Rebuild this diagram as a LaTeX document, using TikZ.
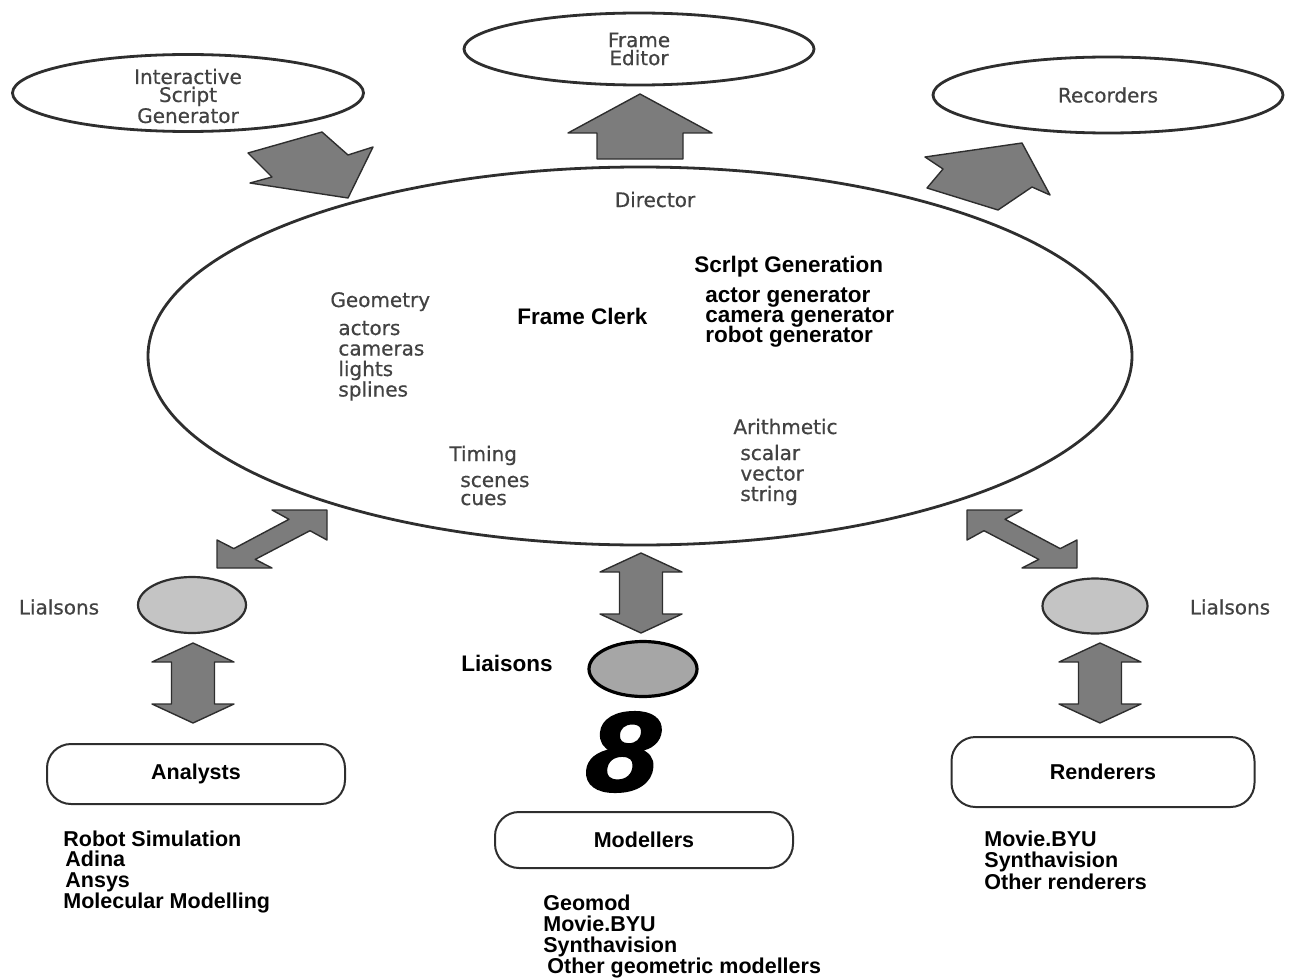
\documentclass[tikz,border=0pt]{standalone}
\usepackage{fontspec}
\newfontfamily\genevafont[FakeBold=0.6]{DejaVu Sans}
\newfontfamily\helvfont{Liberation Sans}
\newfontfamily\heavyfont[FakeBold=2.5, FakeStretch=1.15, FakeSlant=0.08]{Liberation Sans}
\usetikzlibrary{shapes.geometric}

\definecolor{inkgray}{HTML}{424242}
\definecolor{linegray}{HTML}{2E2E2E}
\definecolor{arrowgray}{HTML}{7C7C7C}
\definecolor{lialgray}{HTML}{C4C4C4}
\definecolor{lialdark}{HTML}{A6A6A6}

\begin{document}
\begin{tikzpicture}[x=0.5pt, y=-0.5pt, line join=round,
    oval/.style={ellipse, draw=linegray, line width=1.4pt, inner sep=0},
    pill/.style={rectangle, rounded corners=12pt, draw=linegray, line width=1pt, inner sep=0,
        font=\helvfont\bfseries\fontsize{10.75pt}{12pt}\selectfont},
    graytxt/.style={font=\genevafont\fontsize{10pt}{9pt}\selectfont, text=inkgray, inner sep=0},
    boldtxt/.style={font=\helvfont\bfseries\fontsize{11.25pt}{12pt}\selectfont, inner sep=0},
    listtxt/.style={font=\helvfont\bfseries\fontsize{10.75pt}{12pt}\selectfont, inner sep=0, anchor=base west},
    fatarrow/.style={draw=linegray, line width=0.7pt, fill=arrowgray}]

    \useasboundingbox (0,0) rectangle (1290,979);

    % ------------------------------------------
    % Top: script generator, editor, recorders
    % ------------------------------------------
    \node[oval, graytxt, draw=linegray, align=center, minimum width=175.5pt, minimum height=38.5pt] (isg) at (188,93) {};
    \node[graytxt, align=center] (isglbl) at (188,96) {Interactive\\Script\\Generator};
    \node[oval, graytxt, draw=linegray, align=center, minimum width=175pt, minimum height=36pt] (fed) at (639,49) {Frame\\Editor};
    \node[oval, graytxt, draw=linegray, minimum width=175pt, minimum height=38pt] (rec) at (1108,95) {Recorders};

    % ------------------------------------------
    % The director
    % ------------------------------------------
    \node[oval, minimum width=492pt, minimum height=189pt] (dir) at (640,356) {};
    \node[graytxt, anchor=base] (dirlbl) at (655,207) {Director};

    \node[graytxt, anchor=base west] (geo) at (330,307) {Geometry};
    \foreach \t [count=\i from 0] in {actors, cameras, lights, splines}
        \node[graytxt, anchor=base west] (geo\i) at (338, 335+20.5*\i) {\t};

    \node[graytxt, anchor=base west] (tim) at (449,461) {Timing};
    \node[graytxt, anchor=base west] (tim0) at (460,487) {scenes};
    \node[graytxt, anchor=base west] (tim1) at (460,505) {cues};

    \node[graytxt, anchor=base west] (ari) at (733,434) {Arithmetic};
    \foreach \t [count=\i from 0] in {scalar, vector, string}
        \node[graytxt, anchor=base west] (ari\i) at (740, 460+20.5*\i) {\t};

    \node[boldtxt, anchor=base west] (clerk) at (517,324) {Frame Clerk};
    \node[boldtxt, anchor=base west] (sgen) at (694,272) {Scrlpt Generation};
    \foreach \t [count=\i from 0] in {actor generator, camera generator, robot generator}
        \node[boldtxt, anchor=base west] (sgen\i) at (705, 302+20*\i) {\t};

    % fat arrows out of / into the director
    \draw[fatarrow] (248,153) -- (322,132) -- (348,155) -- (373,147) -- (348,198) -- (250,183) -- (272,177) -- cycle;
    \draw[fatarrow] (640,94) -- (712,133) -- (683,133) -- (683,159) -- (597,159) -- (597,133) -- (568,133) -- cycle;
    \draw[fatarrow] (925,157) -- (1022,143) -- (1050,195) -- (1032,187) -- (998,210) -- (927,188) -- (943,169) -- cycle;

    % ------------------------------------------
    % Liaisons
    % ------------------------------------------
    \node[oval, line width=1.1pt, fill=lialgray, minimum width=54pt, minimum height=28pt] (lialL) at (192,605) {};
    \node[oval, line width=1.1pt, fill=lialgray, minimum width=52.5pt, minimum height=27.5pt] (lialR) at (1095,606) {};
    \node[oval, draw=black, line width=1.6pt, fill=lialdark, minimum width=54pt, minimum height=27.5pt] (lialC) at (643,669) {};

    \node[graytxt] (lialLlbl) at (59,607) {Lialsons};
    \node[graytxt] (lialRlbl) at (1230,607) {Lialsons};
    \node[boldtxt] (lialClbl) at (507,663) {Liaisons};

    % diagonal double arrows (right one is the mirror image)
    \foreach \s/\o in {1/0, -1/1294} {
        \begin{scope}[shift={(\o,0)}, xscale=\s]
            \draw[fatarrow] (217,568) -- (217,540) -- (233.8,548.6) -- (289,519.3) -- (272,510) -- (327,510)
                -- (327,540) -- (310,530.7) -- (255.2,559.4) -- (272,568) -- cycle;
        \end{scope}
    }

    % vertical double arrows
    \foreach \x/\y in {193/643, 641/553, 1100/643}
        \draw[fatarrow] (\x,\y) -- (\x+41,\y+19) -- (\x+21.5,\y+19) -- (\x+21.5,\y+61) -- (\x+41,\y+61)
            -- (\x,\y+80) -- (\x-41,\y+61) -- (\x-21.5,\y+61) -- (\x-21.5,\y+19) -- (\x-41,\y+19) -- cycle;

    \node[font=\heavyfont\bfseries\itshape\fontsize{56pt}{56pt}\selectfont, inner sep=0] (eight) at (620,752) {8};

    % ------------------------------------------
    % Bottom: analysts, modellers, renderers
    % ------------------------------------------
    \node[pill, minimum width=149pt, minimum height=30pt] (ana) at (196,774) {Analysts};
    \node[pill, minimum width=149pt, minimum height=28pt] (mod) at (644,840) {Modellers};
    \node[pill, minimum width=151.5pt, minimum height=35pt] (ren) at (1103,772) {Renderers};

    \foreach \x/\t [count=\i from 0] in {63/Robot Simulation, 65/Adina, 65/Ansys, 63/Molecular Modelling}
        \node[listtxt] (anaitem\i) at (\x, 846+20.7*\i) {\t};
    \foreach \x/\t [count=\i from 0] in {543/Geomod, 543/Movie.BYU, 543/Synthavision, 547/Other geometric modellers}
        \node[listtxt] (moditem\i) at (\x, 910+21.3*\i) {\t};
    \foreach \t [count=\i from 0] in {Movie.BYU, Synthavision, Other renderers}
        \node[listtxt] (renitem\i) at (984, 846+21.5*\i) {\t};

\end{tikzpicture}
\end{document}
